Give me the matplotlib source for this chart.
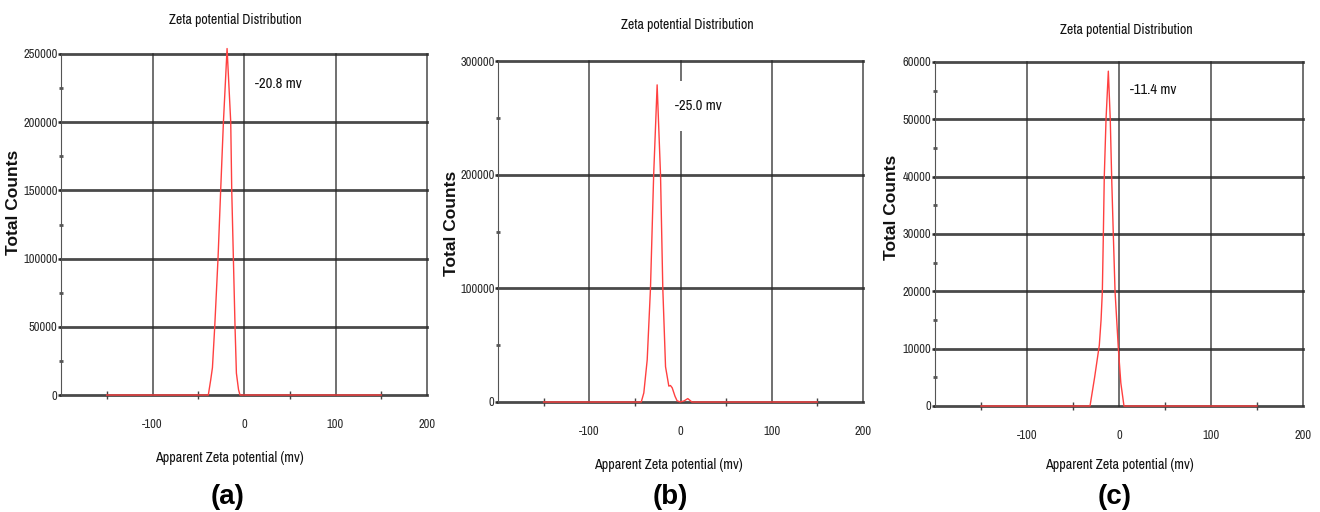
import matplotlib
matplotlib.use("Agg")
import matplotlib.pyplot as plt
from matplotlib import font_manager
from matplotlib.font_manager import FontProperties
from matplotlib.ticker import MultipleLocator, FixedLocator

plt.rcParams["axes.unicode_minus"] = False

# ---------------- data ----------------
a_x = [-150, -39, -36.4, -34.5, -32, -28.4, -25.5, -22.5, -18.5, -14.5, -13.4, -11.6, -9.8, -8.3, -6, -4.4, 150]
a_y = [0, 0, 11000, 20000, 50000, 100000, 150000, 200000, 254000, 200000, 150000, 100000, 50000, 16000, 4000, 0, 0]

b_x = [-150, -43, -40.2, -36.5, -32.9, -29.4, -25.6, -21.9, -19.4, -16.4, -12.8, -11, -9.1, -6, -3.7, 0, 4, 8, 12.5, 150]
b_y = [0, 0, 8000, 37000, 100000, 200000, 279000, 200000, 100000, 31000, 14000, 14500, 12500, 5000, 1000, 0, 1000, 3000, 0, 0]

c_x = [-150, -31.5, -26.5, -21.4, -19.5, -18.1, -17, -16, -14.1, -11.6, -9.5, -8, -6.2, -4.3, -0.7, 2, 5.4, 150]
c_y = [0, 0, 5000, 10600, 15000, 20000, 30000, 40000, 50000, 58400, 50000, 40000, 30000, 20000, 10000, 4000, 0, 0]

peak_labels = ["-20.8 mv", "-25.0 mv", "-11.4 mv"]
panel_labels = ["(a)", "(b)", "(c)"]
y_max = [250000, 300000, 60000]
y_major = [50000, 100000, 10000]
y_minor = [25000, 50000, 5000]
x_ticks = [-100, 0, 100, 200]
x_minor = [-150, -50, 50, 150]
title_text = "Zeta potential Distribution"
xlabel_text = "Apparent Zeta potential (mv)"
ylabel_text = "Total Counts"

# ---------------- fonts ----------------
def find_narrow():
    ents = font_manager.fontManager.ttflist
    def ok_weight(e):
        return e.weight in (400, "normal", "regular", "book")
    for key in ["Narrow", "Condensed"]:
        cands = [e for e in ents if key.lower() in (e.name + " " + e.fname).lower()
                 and e.style == "normal"]
        reg = [e for e in cands if ok_weight(e)]
        if reg:
            return reg[0].fname
        if cands:
            return cands[0].fname
    cands = [e for e in ents if str(e.stretch) in ("condensed", "semi-condensed", "extra-condensed")]
    if cands:
        return cands[0].fname
    return None

narrow_file = find_narrow()
def nfont(size):
    if narrow_file:
        return FontProperties(fname=narrow_file, size=size)
    return FontProperties(family="DejaVu Sans", stretch="condensed", size=size)

names = {f.name for f in font_manager.fontManager.ttflist}
wide = "Liberation Sans" if "Liberation Sans" in names else "DejaVu Sans"

W, H = 1320, 512
fig = plt.figure(figsize=(W / 100, H / 100), dpi=100)

def fx(px):
    return px / W

def fy(py):
    return 1 - py / H

boxes = [(61, 54, 427, 395), (498, 61, 863, 402), (935, 62, 1303, 406)]
titles_pos = [(235, 20), (687, 25), (1126, 30)]
ylab_pos = [(14, 202), (452, 223), (891, 207)]
xlab_pos = [(229, 458), (668, 465), (1119, 465)]
plab_pos = [(228, 497), (670, 497), (1115, 497)]
ann_pos = [(12, 0.912), (-5.5, 0.867), (12, 0.92)]

series = [(a_x, a_y), (b_x, b_y), (c_x, c_y)]
grid_col = "#2a2a2a"
tick_size = 9 if narrow_file else 7.5

for i in range(3):
    l, t, r, b = boxes[i]
    ax = fig.add_axes([fx(l), fy(b), (r - l) / W, (b - t) / H])
    ax.set_xlim(-200, 200)
    ax.set_ylim(0, y_max[i])
    ax.set_facecolor("white")

    for yv in range(0, y_max[i] + 1, y_major[i]):
        ax.axhline(yv, color=grid_col, lw=2.0, zorder=1, clip_on=False, alpha=0.85)
    for xv in [-100, 0, 100, 200]:
        ax.axvline(xv, color=grid_col, lw=1.1, zorder=1, clip_on=False, alpha=0.85)

    for s in ["top", "bottom", "right"]:
        ax.spines[s].set_visible(False)
    ax.spines["left"].set_color("#555555")
    ax.spines["left"].set_linewidth(0.8)

    ax.xaxis.set_major_locator(FixedLocator(x_ticks))
    ax.xaxis.set_minor_locator(FixedLocator(x_minor))
    ax.yaxis.set_major_locator(MultipleLocator(y_major[i]))
    ax.yaxis.set_minor_locator(MultipleLocator(y_minor[i]))
    ax.tick_params(axis="x", which="major", length=0, pad=17, labelcolor="#2a2a2a")
    ax.tick_params(axis="x", which="minor", direction="inout", length=6, width=1,
                   color="#444444")
    ax.tick_params(axis="y", which="major", direction="out", length=2, width=1.8,
                   color=grid_col, pad=0.5, labelcolor="#2a2a2a")
    ax.tick_params(axis="y", which="minor", direction="inout", length=3, width=2,
                   color="#555555")
    for lab in ax.get_xticklabels() + ax.get_yticklabels():
        lab.set_fontproperties(nfont(tick_size))

    xs, ys = series[i]
    ax.plot(xs, ys, color="#ff4040", lw=1.0, zorder=5, clip_on=False)

    bbox = None
    if i == 1:
        bbox = dict(facecolor="white", edgecolor="none", pad=13)
    ax.text(ann_pos[i][0], ann_pos[i][1] * y_max[i], peak_labels[i],
            fontproperties=nfont(10.5), color="#111111",
            ha="left", va="center", zorder=3, bbox=bbox)

    fig.text(fx(titles_pos[i][0]), fy(titles_pos[i][1]), title_text,
             fontproperties=nfont(10), color="#111111",
             ha="center", va="center")
    fig.text(fx(ylab_pos[i][0]), fy(ylab_pos[i][1]), ylabel_text,
             fontfamily=wide, fontsize=12.5, fontweight="bold", color="#111111",
             rotation=90, ha="center", va="center")
    fig.text(fx(xlab_pos[i][0]), fy(xlab_pos[i][1]), xlabel_text,
             fontproperties=nfont(10.2), color="#111111",
             ha="center", va="center")
    fig.text(fx(plab_pos[i][0]), fy(plab_pos[i][1]), panel_labels[i],
             fontfamily=wide, fontsize=20, fontweight="bold", color="black",
             ha="center", va="center")

fig.savefig("out.png", dpi=100, facecolor="white")
